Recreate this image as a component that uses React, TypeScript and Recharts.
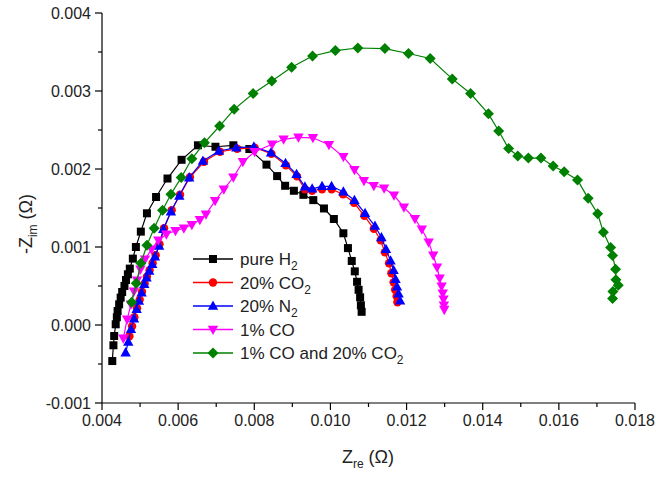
import React from 'react';
import { ScatterChart, Scatter, XAxis, YAxis, Legend } from 'recharts';

const xTicks = [0.004, 0.005, 0.006, 0.007, 0.008, 0.009, 0.01, 0.011, 0.012, 0.013, 0.014, 0.015, 0.016, 0.017, 0.018];
const yTicks = [-0.001, -0.0005, 0, 0.0005, 0.001, 0.0015, 0.002, 0.0025, 0.003, 0.0035, 0.004];

const pureH2: [number, number][] = [
  [0.00427, -0.000462], [0.0043, -0.00026], [0.00432, -0.000141], [0.00436, 0.000009], [0.00439, 0.000099],
  [0.00441, 0.000179], [0.00445, 0.000265], [0.00449, 0.000351], [0.00453, 0.000423], [0.00459, 0.0005],
  [0.00463, 0.000577], [0.00468, 0.00065], [0.00473, 0.000723], [0.00481, 0.000851], [0.00489, 0.001],
  [0.00502, 0.001197], [0.00518, 0.001432], [0.00542, 0.001641], [0.00572, 0.001878], [0.00609, 0.002118],
  [0.00652, 0.002304], [0.00698, 0.002285], [0.00745, 0.002304], [0.00787, 0.002256], [0.00832, 0.002056],
  [0.0086, 0.001909], [0.00881, 0.001785], [0.00904, 0.001721], [0.00929, 0.001669], [0.00955, 0.001601],
  [0.00983, 0.001494], [0.01009, 0.001359], [0.01034, 0.001176], [0.01046, 0.000986], [0.01056, 0.000821],
  [0.01064, 0.000688], [0.0107, 0.000554], [0.01074, 0.000451], [0.01078, 0.000355], [0.0108, 0.000253],
  [0.01082, 0.000169],
];

const co2_20: [number, number][] = [
  [0.00472, -0.000145], [0.00479, -0.000017], [0.00485, 0.000099], [0.00492, 0.000214], [0.00499, 0.000323],
  [0.00505, 0.000426], [0.00512, 0.000528], [0.00518, 0.000618], [0.00525, 0.000701], [0.00533, 0.000791],
  [0.00541, 0.000894], [0.00551, 0.001035], [0.00563, 0.00124], [0.00583, 0.001471], [0.00605, 0.001669],
  [0.00631, 0.001894], [0.00668, 0.002092], [0.0071, 0.002221], [0.00755, 0.002259], [0.00801, 0.002272],
  [0.00845, 0.002195], [0.00883, 0.002047], [0.00912, 0.001906], [0.00933, 0.00174], [0.00952, 0.001721],
  [0.00978, 0.00174], [0.01003, 0.00174], [0.01033, 0.001676], [0.01062, 0.001567], [0.01089, 0.0014],
  [0.01114, 0.001233], [0.01132, 0.001086], [0.01143, 0.000932], [0.01154, 0.000791], [0.0116, 0.000663],
  [0.01166, 0.000547], [0.0117, 0.000451], [0.01174, 0.000368], [0.01176, 0.000291],
];

const n2_20: [number, number][] = [
  [0.00462, -0.000354], [0.00469, -0.000218], [0.00476, -0.000055], [0.00484, 0.000082], [0.00491, 0.000201],
  [0.00497, 0.000308], [0.00504, 0.000415], [0.00511, 0.000522], [0.00517, 0.000608], [0.00524, 0.000692],
  [0.00532, 0.000778], [0.00539, 0.000877], [0.0055, 0.001013], [0.00561, 0.001227], [0.00581, 0.001454],
  [0.00603, 0.001656], [0.00629, 0.00189], [0.00665, 0.002103], [0.00707, 0.002231], [0.00753, 0.002274],
  [0.00799, 0.002285], [0.00844, 0.00221], [0.00882, 0.002073], [0.00911, 0.001932], [0.00933, 0.001772],
  [0.00952, 0.001746], [0.00978, 0.001778], [0.01003, 0.001778], [0.01034, 0.001708], [0.01063, 0.001599],
  [0.01091, 0.001432], [0.01117, 0.001269], [0.01134, 0.001121], [0.01146, 0.000971], [0.01158, 0.000823],
  [0.01166, 0.000701], [0.01171, 0.000586], [0.01175, 0.00049], [0.01179, 0.0004], [0.01183, 0.00031],
];

const co1: [number, number][] = [
  [0.00456, -0.000171], [0.00466, 0.000073], [0.00476, 0.000265], [0.00484, 0.000432], [0.00492, 0.000573],
  [0.00501, 0.000714], [0.00513, 0.000842], [0.0053, 0.000971], [0.00548, 0.001086], [0.00569, 0.001163],
  [0.00593, 0.001208], [0.00615, 0.00124], [0.00636, 0.001285], [0.00657, 0.001349], [0.00673, 0.001419],
  [0.00697, 0.001592], [0.0072, 0.00174], [0.00745, 0.001894], [0.0077, 0.002092], [0.00801, 0.002221],
  [0.00847, 0.002317], [0.00877, 0.002381], [0.00916, 0.002406], [0.00954, 0.0024], [0.00996, 0.00231],
  [0.01034, 0.002156], [0.01063, 0.00199], [0.01088, 0.001849], [0.01114, 0.001785], [0.01141, 0.001753],
  [0.01167, 0.001663], [0.01193, 0.001509], [0.01222, 0.001362], [0.0124, 0.001227], [0.01258, 0.00106],
  [0.0127, 0.000894], [0.0128, 0.00074], [0.01287, 0.000599], [0.01292, 0.000496], [0.01295, 0.000406],
  [0.01297, 0.00033], [0.01298, 0.000253], [0.01299, 0.000197],
];

const co1co2: [number, number][] = [
  [0.00478, 0.000291], [0.0049, 0.000535], [0.00502, 0.000791], [0.00518, 0.001022], [0.00537, 0.00124],
  [0.00559, 0.001471], [0.00581, 0.001676], [0.00608, 0.00189], [0.00636, 0.002131], [0.00669, 0.002336],
  [0.00709, 0.002551], [0.00747, 0.002765], [0.00797, 0.002967], [0.00846, 0.003128], [0.00898, 0.003304],
  [0.00953, 0.003449], [0.01013, 0.003518], [0.01072, 0.003551], [0.01143, 0.003544], [0.01205, 0.003481],
  [0.01262, 0.003417], [0.0132, 0.003155], [0.01368, 0.002968], [0.01415, 0.002707], [0.01442, 0.002487],
  [0.01468, 0.002263], [0.01492, 0.002167], [0.0152, 0.00214], [0.01553, 0.00214], [0.01585, 0.002039],
  [0.01614, 0.001964], [0.01649, 0.001859], [0.01677, 0.001624], [0.01702, 0.001426], [0.01717, 0.001188],
  [0.01736, 0.000992], [0.01741, 0.000891], [0.01749, 0.000714], [0.0175, 0.00058], [0.01756, 0.000509],
  [0.01742, 0.00043], [0.01741, 0.00034],
];

const toPts = (a: [number, number][]) => a.map(([x, y]) => ({ x, y }));

const FONT = '"Liberation Sans", Arial, sans-serif';

type MarkerKind = 'square' | 'circle' | 'triangle' | 'triangleDown' | 'diamond';

const Marker = ({ kind, cx, cy, color }: { kind: MarkerKind; cx: number; cy: number; color: string }) => {
  if (kind === 'square') return <rect x={cx - 4} y={cy - 4} width={8} height={8} fill={color} />;
  if (kind === 'circle') return <circle cx={cx} cy={cy} r={4.2} fill={color} />;
  if (kind === 'triangle')
    return <polygon points={`${cx},${cy - 5.5} ${cx + 5.2},${cy + 3.8} ${cx - 5.2},${cy + 3.8}`} fill={color} />;
  if (kind === 'triangleDown')
    return <polygon points={`${cx},${cy + 5.5} ${cx + 5.2},${cy - 3.8} ${cx - 5.2},${cy - 3.8}`} fill={color} />;
  return <polygon points={`${cx},${cy - 5.5} ${cx + 5.5},${cy} ${cx},${cy + 5.5} ${cx - 5.5},${cy}`} fill={color} />;
};

const series = [
  { key: 'h2', data: pureH2, color: '#000000', kind: 'square' as MarkerKind, label: ['pure H', '2'] },
  { key: 'co2', data: co2_20, color: '#ff0000', kind: 'circle' as MarkerKind, label: ['20% CO', '2'] },
  { key: 'n2', data: n2_20, color: '#0000ff', kind: 'triangle' as MarkerKind, label: ['20% N', '2'] },
  { key: 'co', data: co1, color: '#ff00ff', kind: 'triangleDown' as MarkerKind, label: ['1% CO', ''] },
  { key: 'coco2', data: co1co2, color: '#008000', kind: 'diamond' as MarkerKind, label: ['1% CO and 20% CO', '2'] },
];

const XTick = (props: any) => {
  const { x, y, payload } = props;
  const v = payload.value as number;
  const major = Math.round(v * 1000) % 2 === 0;
  return (
    <g>
      <line x1={x} x2={x} y1={y} y2={y + (major ? 7 : 4)} stroke="#000" strokeWidth={1.2} />
      {major && (
        <text x={x} y={y + 23} textAnchor="middle" fontSize={16} fill="#222" fontFamily={FONT}>
          {v.toFixed(3)}
        </text>
      )}
    </g>
  );
};

const YTick = (props: any) => {
  const { x, y, payload } = props;
  const v = payload.value as number;
  const major = Math.round(v * 10000) % 10 === 0;
  return (
    <g>
      <line x1={x} x2={x - (major ? 7 : 4)} y1={y} y2={y} stroke="#000" strokeWidth={1.2} />
      {major && (
        <text x={x - 11} y={y + 6} textAnchor="end" fontSize={16} fill="#222" fontFamily={FONT}>
          {v.toFixed(3)}
        </text>
      )}
    </g>
  );
};

const LegendBox = () => (
  <svg width={260} height={120} style={{ overflow: 'visible' }}>
    {series.map((s, i) => {
      const cy = 11 + i * 23.5;
      return (
        <g key={s.key}>
          <line x1={3} x2={43} y1={cy} y2={cy} stroke={s.color} strokeWidth={1.3} />
          <Marker kind={s.kind} cx={23} cy={cy} color={s.color} />
          <text x={50} y={cy + 6} fontSize={17} fill="#222" fontFamily={FONT}>
            {s.label[0]}
            {s.label[1] && (
              <tspan fontSize={12} dy={5}>
                {s.label[1]}
              </tspan>
            )}
          </text>
        </g>
      );
    })}
  </svg>
);

export default function App() {
  return (
    <div style={{ position: 'absolute', left: 0, top: 0, width: 656, height: 477, overflow: 'visible' }}>
      <ScatterChart width={656} height={477} margin={{ top: 13, right: 21, bottom: 14, left: 18 }}>
        <XAxis
          xAxisId={0}
          type="number"
          dataKey="x"
          domain={[0.004, 0.018]}
          ticks={xTicks}
          interval={0}
          tick={XTick}
          tickLine={false}
          tickSize={0}
          tickMargin={0}
          axisLine={{ stroke: '#000', strokeWidth: 1.2 }}
          height={60}
          allowDataOverflow
        />
        <XAxis
          xAxisId="top"
          orientation="top"
          type="number"
          domain={[0.004, 0.018]}
          tick={false}
          tickLine={false}
          axisLine={{ stroke: '#000', strokeWidth: 1.2 }}
          height={0}
        />
        <YAxis
          yAxisId={0}
          type="number"
          dataKey="y"
          domain={[-0.001, 0.004]}
          ticks={yTicks}
          interval={0}
          tick={YTick}
          tickLine={false}
          tickSize={0}
          tickMargin={0}
          axisLine={{ stroke: '#000', strokeWidth: 1.2 }}
          width={84}
          allowDataOverflow
        />
        <YAxis
          yAxisId="right"
          orientation="right"
          type="number"
          domain={[-0.001, 0.004]}
          tick={false}
          tickLine={false}
          axisLine={{ stroke: '#000', strokeWidth: 1.2 }}
          width={0}
        />
        {series.map((s) => (
          <Scatter
            key={s.key}
            xAxisId={0}
            yAxisId={0}
            data={toPts(s.data)}
            fill={s.color}
            line={{ stroke: s.color, strokeWidth: 1.2 }}
            lineType="joint"
            isAnimationActive={false}
            shape={(p: any) => <Marker kind={s.kind} cx={p.cx} cy={p.cy} color={s.color} />}
          />
        ))}
        <Legend
          layout="vertical"
          align="center"
          verticalAlign="middle"
          content={() => <LegendBox />}
          wrapperStyle={{ position: 'absolute', left: 190, top: 248, width: 260, height: 120 }}
        />
      </ScatterChart>
      <svg width={656} height={477} style={{ position: 'absolute', left: 0, top: 0, pointerEvents: 'none' }}>
        <text
          transform="translate(32, 224) rotate(-90)"
          textAnchor="middle"
          fontSize={18}
          fill="#222"
          fontFamily={FONT}
        >
          -Z
          <tspan fontSize={12} dy={5}>im</tspan>
          <tspan dy={-5}> (Ω)</tspan>
        </text>
        <text x={368} y={463} textAnchor="middle" fontSize={18} fill="#222" fontFamily={FONT}>
          Z
          <tspan fontSize={12} dy={5}>re</tspan>
          <tspan dy={-5}> (Ω)</tspan>
        </text>
      </svg>
    </div>
  );
}
